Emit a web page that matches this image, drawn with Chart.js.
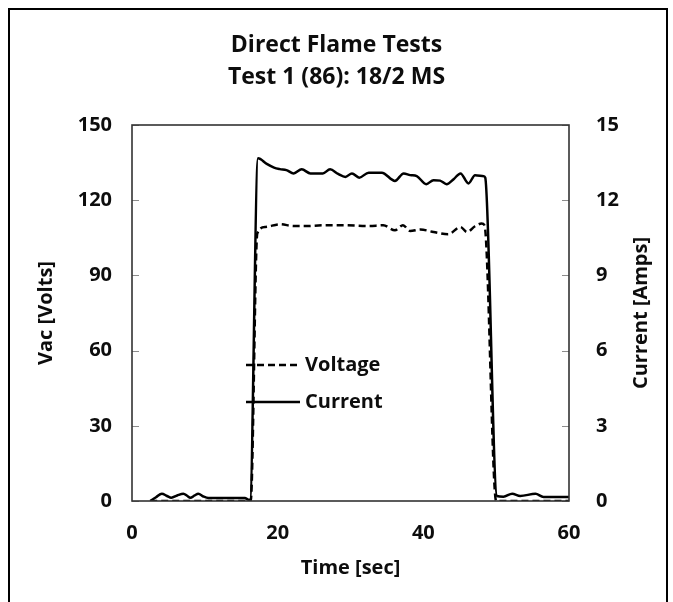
<!DOCTYPE html>
<html><head><meta charset="utf-8">
<script src="https://cdn.jsdelivr.net/npm/chart.js@4.4.0/dist/chart.umd.min.js"></script>
<style>html,body{margin:0;padding:0;background:#fff;overflow:hidden}#wrap{position:relative;width:673px;height:602px}</style>
</head><body><div id="wrap"><canvas id="c" width="673" height="602"></canvas></div>
<script>
const titleLines = ['Direct Flame Tests', 'Test 1 (86): 18/2 MS'];
const xAxisTitle = 'Time [sec]';
const leftAxisTitle = 'Vac [Volts]';
const rightAxisTitle = 'Current [Amps]';
const seriesNames = ['Voltage', 'Current'];

const xRange = [0, 60];        // ticks every 20
const voltRange = [0, 150];    // ticks every 30
const ampRange = [0, 15];      // ticks every 3

const currentTime = [2.5, 3.3, 4.1, 4.8, 5.4, 6.2, 7.05, 7.6, 8.0, 8.6, 9.1, 9.8, 10.5, 12, 14, 15.5, 16.0, 16.2,
  17.3, 18.5, 19.5, 20.3, 21.2, 22.2, 23.3, 24.5, 26.2, 27.2, 28.3, 29.3, 30.2, 31.2, 32.5, 34.3, 36.1, 37.3, 38.2,
  39.1, 40.4, 41.4, 42.3, 43.2, 44.2, 45.1, 46.2, 47.1, 48.3, 48.5, 50.1, 51.0, 52.2, 53.3, 55.4, 56.5, 58, 60];
const currentAmps = [0, 0.15, 0.29, 0.2, 0.13, 0.22, 0.29, 0.2, 0.13, 0.22, 0.29, 0.18, 0.12, 0.12, 0.12, 0.12, 0.05, 0.05,
  13.67, 13.45, 13.3, 13.24, 13.2, 13.07, 13.23, 13.07, 13.07, 13.23, 13.05, 12.93, 13.07, 12.9, 13.1, 13.1, 12.77, 13.07, 13.0,
  12.96, 12.64, 12.8, 12.78, 12.64, 12.85, 13.07, 12.67, 13.0, 12.96, 12.9, 0.2, 0.17, 0.29, 0.2, 0.29, 0.16, 0.16, 0.16];

const voltageTime = [2.5, 8, 14, 16.3, 17.2, 18.3, 20.3, 22.2, 24, 26.2, 29, 32.5, 34.5, 36.1, 37.2, 38.2, 39.6, 41.4,
  43.4, 45.1, 46, 47.1, 48, 48.4, 50.0, 55, 60];
const voltageVolts = [0, 0, 0, 0, 106.7, 109.3, 110.4, 109.7, 109.7, 110, 110, 109.7, 110, 108, 110, 107.7, 108.3, 107.3,
  106.4, 109.3, 107.3, 109.6, 110.7, 110, 0, 0, 0];

const FONT = "'Open Sans', 'DejaVu Sans', sans-serif";
const TXT = '#0d0d0d';

const zip = (xs, ys) => xs.map((x, i) => ({x: x, y: ys[i]}));

const framePlugin = {
  id: 'frame',
  beforeDatasetsDraw(chart) {
    const {ctx, chartArea: a} = chart;
    ctx.save();
    ctx.strokeStyle = '#8c8c8c';
    ctx.lineWidth = 1;
    const yl = chart.scales.y, yr = chart.scales.y1;
    yl.ticks.forEach(t => {
      const py = Math.round(yl.getPixelForValue(t.value)) + 0.5;
      ctx.beginPath(); ctx.moveTo(a.left, py); ctx.lineTo(a.left + 7, py); ctx.stroke();
    });
    yr.ticks.forEach(t => {
      const py = Math.round(yr.getPixelForValue(t.value)) + 0.5;
      ctx.beginPath(); ctx.moveTo(a.right - 7, py); ctx.lineTo(a.right, py); ctx.stroke();
    });
    ctx.restore();
  },
  afterDatasetsDraw(chart) {
    const {ctx, chartArea: a} = chart;
    ctx.save();
    // plot frame
    ctx.strokeStyle = '#333';
    ctx.lineWidth = 1.6;
    ctx.strokeRect(a.left, a.top, a.right - a.left, a.bottom - a.top);
    // legend
    const ds = chart.data.datasets;
    const rows = [365, 402];
    ds.forEach((d, i) => {
      const y = rows[i];
      ctx.strokeStyle = d.borderColor;
      ctx.lineWidth = d.borderWidth;
      ctx.setLineDash(d.borderDash || []);
      ctx.beginPath(); ctx.moveTo(246, y); ctx.lineTo(300, y); ctx.stroke();
      ctx.setLineDash([]);
      ctx.fillStyle = TXT;
      ctx.font = "bold 20px " + FONT;
      ctx.textAlign = 'left';
      ctx.textBaseline = 'middle';
      ctx.fillText(d.label, 305, y);
    });
    // right axis title (reads bottom-to-top)
    ctx.translate(641, (a.top + a.bottom) / 2);
    ctx.rotate(-Math.PI / 2);
    ctx.fillStyle = TXT;
    ctx.font = "bold 20px " + FONT;
    ctx.textAlign = 'center';
    ctx.textBaseline = 'middle';
    ctx.fillText(rightAxisTitle, 0, 0);
    ctx.restore();
  },
  afterDraw(chart) {
    const ctx = chart.ctx;
    ctx.save();
    ctx.strokeStyle = '#000';
    ctx.lineWidth = 2;
    ctx.strokeRect(9, 9, 658, 700);
    ctx.restore();
  }
};

new Chart(document.getElementById('c'), {
  type: 'line',
  data: {
    datasets: [
      {label: seriesNames[0], data: zip(voltageTime, voltageVolts), yAxisID: 'y',
       borderColor: '#000', borderWidth: 2.5, borderDash: [7, 4], pointRadius: 0,
       cubicInterpolationMode: 'monotone', fill: false},
      {label: seriesNames[1], data: zip(currentTime, currentAmps), yAxisID: 'y1',
       borderColor: '#000', borderWidth: 2.5, pointRadius: 0,
       cubicInterpolationMode: 'monotone', fill: false}
    ]
  },
  options: {
    responsive: false,
    animation: false,
    devicePixelRatio: 1,
    layout: {padding: 0},
    plugins: {
      legend: {display: false},
      tooltip: {enabled: false},
      title: {display: true, text: titleLines, color: TXT,
        font: {family: FONT, size: 23, weight: 'bold', lineHeight: 1.4},
        padding: {top: 29, bottom: 31.6}}
    },
    scales: {
      x: {type: 'linear', min: xRange[0], max: xRange[1],
        ticks: {stepSize: 20, color: TXT, padding: 20, font: {family: FONT, size: 20, weight: 'bold'}},
        grid: {display: false, drawTicks: false}, border: {display: false},
        title: {display: true, text: xAxisTitle, color: TXT, font: {family: FONT, size: 20, weight: 'bold'}, padding: {top: 0, bottom: 22}},
        afterFit(s) { s.height = 101; }},
      y: {type: 'linear', position: 'left', min: voltRange[0], max: voltRange[1],
        ticks: {stepSize: 30, color: TXT, padding: 20, font: {family: FONT, size: 20, weight: 'bold'}},
        grid: {display: false, drawTicks: false}, border: {display: false},
        title: {display: true, text: leftAxisTitle, color: TXT, font: {family: FONT, size: 20, weight: 'bold'}, padding: {top: 34, bottom: 0}},
        afterFit(s) { s.width = 132; }},
      y1: {type: 'linear', position: 'right', min: ampRange[0], max: ampRange[1],
        ticks: {stepSize: 3, color: TXT, padding: 27, font: {family: FONT, size: 20, weight: 'bold'}},
        grid: {display: false, drawTicks: false}, border: {display: false},
        afterFit(s) { s.width = 104; }}
    }
  },
  plugins: [framePlugin]
});
</script></body></html>
